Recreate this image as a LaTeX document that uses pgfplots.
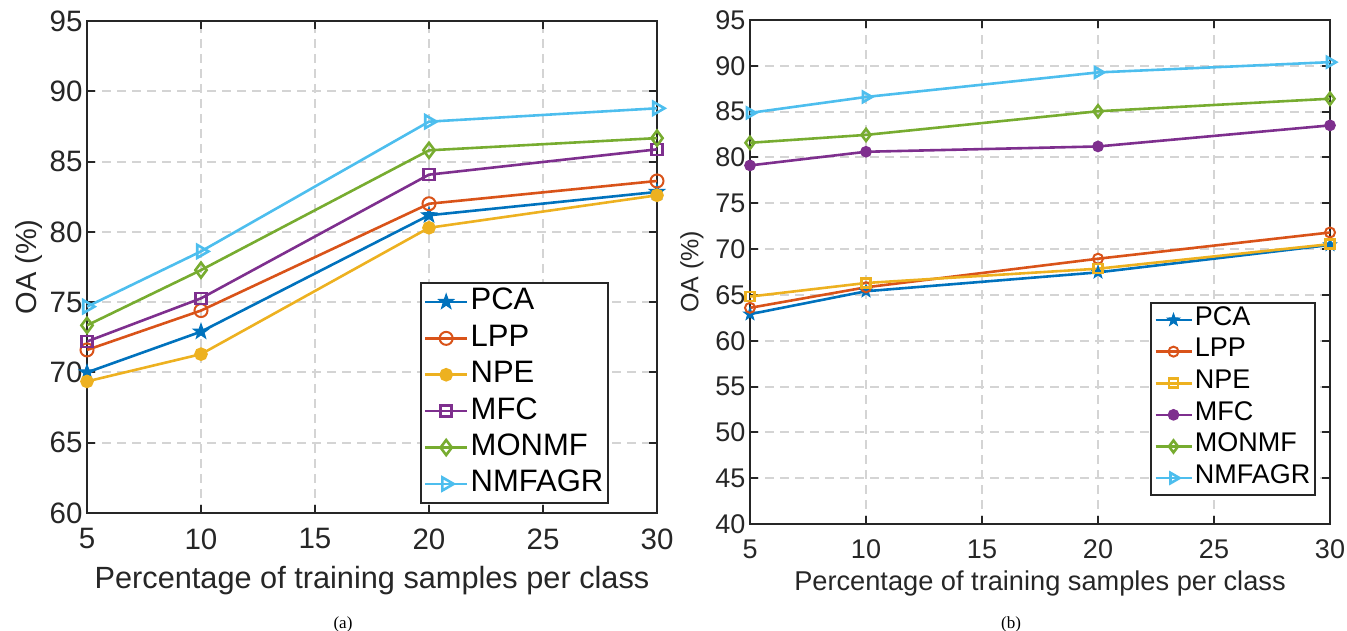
\documentclass[border=0pt]{standalone}
\usepackage{fontspec}
\setmainfont{Liberation Sans}
\newfontfamily\seriffont{Liberation Serif}
\usepackage{pgfplots}
\pgfplotsset{compat=1.18}
\usetikzlibrary{plotmarks}
\definecolor{c1}{rgb}{0,0.447,0.741}
\definecolor{c2}{rgb}{0.85,0.325,0.098}
\definecolor{c3}{rgb}{0.929,0.694,0.125}
\definecolor{c4}{rgb}{0.494,0.184,0.556}
\definecolor{c5}{rgb}{0.466,0.674,0.188}
\definecolor{c6}{rgb}{0.301,0.745,0.933}
\definecolor{gridc}{RGB}{212,212,212}
\definecolor{txt}{RGB}{38,38,38}
\pgfdeclareplotmark{pentagram}{%
  \pgfpathmoveto{\pgfpointpolar{90}{\pgfplotmarksize}}%
  \pgfpathlineto{\pgfpointpolar{126}{0.40\pgfplotmarksize}}%
  \pgfpathlineto{\pgfpointpolar{162}{\pgfplotmarksize}}%
  \pgfpathlineto{\pgfpointpolar{198}{0.40\pgfplotmarksize}}%
  \pgfpathlineto{\pgfpointpolar{234}{\pgfplotmarksize}}%
  \pgfpathlineto{\pgfpointpolar{270}{0.40\pgfplotmarksize}}%
  \pgfpathlineto{\pgfpointpolar{306}{\pgfplotmarksize}}%
  \pgfpathlineto{\pgfpointpolar{342}{0.40\pgfplotmarksize}}%
  \pgfpathlineto{\pgfpointpolar{18}{\pgfplotmarksize}}%
  \pgfpathlineto{\pgfpointpolar{54}{0.40\pgfplotmarksize}}%
  \pgfpathclose\pgfusepathqfillstroke}
\pgfplotsset{
  mybase/.style={
    scale only axis,
    xmin=5, xmax=30, xtick={5,10,...,30},
    grid=major,
    major grid style={gridc, dash pattern=on 9bp off 6bp, line width=2bp},
    axis line style={line width=2bp, txt},
    tick style={txt, line width=2bp},
    major tick length=8bp,
    tick align=inside,
    xtick pos=both, ytick pos=both,
    every tick label/.append style={txt},
    /pgf/number format/assume math mode=true,
    legend cell align=left,
    every axis plot/.append style={line width=2.6bp, mark options={solid, line width=2bp}},
  }
}
\begin{document}
\begin{tikzpicture}
\path[use as bounding box] (0,0) rectangle (1347bp,631bp);
% ---------- (a)
\begin{axis}[mybase,
  at={(87bp,118bp)}, anchor=south west,
  width=570bp, height=492bp,
  ymin=60, ymax=95, ytick={60,65,...,95},
  tick label style={font=\fontsize{29.5bp}{32bp}\selectfont},
  xticklabel style={yshift=-12bp},
  yticklabel style={xshift=-1bp},
  xlabel={Percentage of training samples per class},
  xlabel style={font=\fontsize{30.7bp}{33bp}\selectfont, txt, at={(axis description cs:0.5,0)}, anchor=base, yshift=-75bp},
  ylabel={OA (\%)},
  ylabel style={font=\fontsize{29bp}{32bp}\selectfont, txt, at={([xshift=-58bp]axis description cs:0,0.5)}, anchor=center},
  mark size=6.5bp,
  legend image code/.code={\draw[mark repeat=2,mark phase=2,#1] plot coordinates {(0bp,0bp)(21bp,0bp)(42bp,0bp)};},
  legend style={at={(rel axis cs:0.584,0.470)}, anchor=north west, draw=txt, line width=2bp,
    font=\fontsize{31bp}{36bp}\selectfont, text=black, row sep=0pt,
    nodes={inner sep=2.2bp, text height=24bp, text depth=8bp},
    inner xsep=3bp, inner ysep=1bp},
]
\addplot[c1, mark=pentagram, mark options={fill=c1, mark size=8bp, line width=1bp}] coordinates {(5,70.0)(10,72.9)(20,81.18)(30,82.84)};
\addplot[c2, mark=o] coordinates {(5,71.6)(10,74.4)(20,82.0)(30,83.62)};
\addplot[c3, mark=*, mark options={fill=c3, mark size=5.5bp}] coordinates {(5,69.36)(10,71.3)(20,80.29)(30,82.6)};
\addplot[c4, mark=square, mark options={mark size=5.5bp}] coordinates {(5,72.2)(10,75.27)(20,84.07)(30,85.87)};
\addplot[c5, mark=diamond, mark options={mark size=7.5bp}] coordinates {(5,73.35)(10,77.28)(20,85.8)(30,86.67)};
\addplot[c6, mark=triangle, mark options={rotate=-90, mark size=7.5bp}] coordinates {(5,74.68)(10,78.61)(20,87.84)(30,88.79)};
\legend{PCA,LPP,NPE,MFC,MONMF,NMFAGR}
\end{axis}
% ---------- (b)
\begin{axis}[mybase,
  at={(750bp,107bp)}, anchor=south west,
  width=580bp, height=504bp,
  ymin=40, ymax=95, ytick={40,45,...,95},
  tick label style={font=\fontsize{27bp}{30bp}\selectfont},
  xticklabel style={yshift=-12bp},
  yticklabel style={xshift=-1bp},
  xlabel={Percentage of training samples per class},
  xlabel style={font=\fontsize{27.2bp}{30bp}\selectfont, txt, at={(axis description cs:0.5,0)}, anchor=base, yshift=-66bp},
  ylabel={OA (\%)},
  ylabel style={font=\fontsize{25bp}{30bp}\selectfont, txt, at={([xshift=-58bp]axis description cs:0,0.5)}, anchor=center},
  mark size=5bp,
  legend image code/.code={\draw[mark repeat=2,mark phase=2,#1] plot coordinates {(0bp,0bp)(18bp,0bp)(36bp,0bp)};},
  legend style={at={(rel axis cs:0.690,0.440)}, anchor=north west, draw=txt, line width=2bp,
    font=\fontsize{27bp}{31bp}\selectfont, text=black, row sep=0pt,
    nodes={inner sep=2bp, text height=19bp, text depth=8.6bp},
    inner xsep=3bp, inner ysep=1bp},
]
\addplot[c1, mark=pentagram, mark options={fill=c1, mark size=6.5bp, line width=1bp}] coordinates {(5,62.9)(10,65.4)(20,67.46)(30,70.45)};
\addplot[c2, mark=o] coordinates {(5,63.59)(10,65.83)(20,68.95)(30,71.81)};
\addplot[c3, mark=square, mark options={mark size=4.5bp}] coordinates {(5,64.82)(10,66.3)(20,67.86)(30,70.54)};
\addplot[c4, mark=*, mark options={fill=c4, mark size=4.5bp}] coordinates {(5,79.13)(10,80.62)(20,81.2)(30,83.5)};
\addplot[c5, mark=diamond, mark options={mark size=6bp}] coordinates {(5,81.6)(10,82.46)(20,85.04)(30,86.41)};
\addplot[c6, mark=triangle, mark options={rotate=-90, mark size=6bp}] coordinates {(5,84.86)(10,86.6)(20,89.28)(30,90.4)};
\legend{PCA,LPP,NPE,MFC,MONMF,NMFAGR}
\end{axis}
\node[font=\seriffont\fontsize{17bp}{20bp}\selectfont, anchor=base] at (343bp,3bp) {(a)};
\node[font=\seriffont\fontsize{17bp}{20bp}\selectfont, anchor=base] at (1011bp,3bp) {(b)};
\end{tikzpicture}
\end{document}
